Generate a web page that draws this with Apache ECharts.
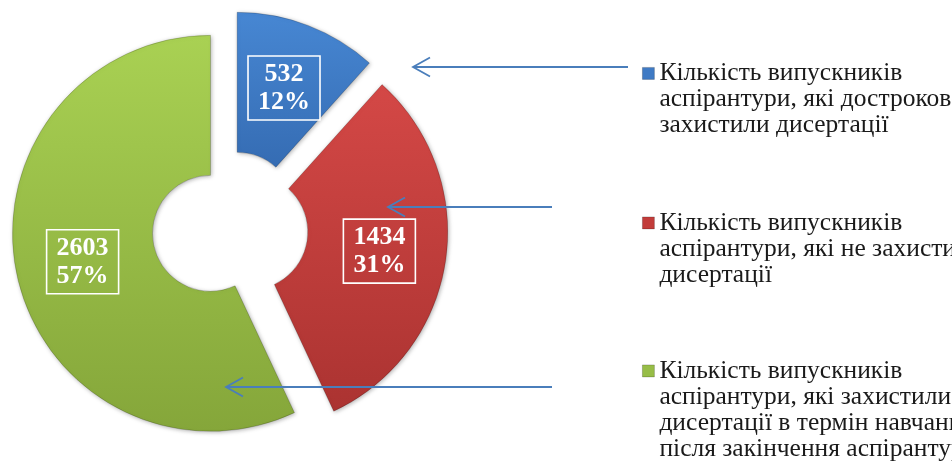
<!DOCTYPE html>
<html>
<head>
<meta charset="utf-8">
<script src="https://cdn.jsdelivr.net/npm/echarts@6/dist/echarts.min.js"></script>
<style>
  html, body { margin: 0; padding: 0; background: #ffffff; }
  #chart { width: 952px; height: 465px; }
</style>
</head>
<body>
<div id="chart"></div>
<script>
// Graduates of postgraduate study by thesis-defence outcome
const categories = [
  'Кількість випускників\nаспірантури, які достроково\nзахистили дисертації',
  'Кількість випускників\nаспірантури, які не захистили\nдисертації',
  'Кількість випускників\nаспірантури, які захистили\nдисертації в термін навчання\nпісля закінчення аспірантури'
];
const values = [532, 1434, 2603];

// top / bottom shades of each slice, flat colour for legend squares
const sliceShades = [
  ['#4787d3', '#356cb3'],
  ['#d44846', '#ab3331'],
  ['#a9d153', '#85a63a']
];
const iconColors = ['#3f7ac4', '#c23c3a', '#97bd47'];

const LINE_H = 26;
const legendTops = [60, 209.5, 357.5];

function legendIcon(lines) {
  const h = lines * LINE_H;
  // square marker aligned with the first text line; degenerate points stretch the box
  return 'path://M0,0L0.001,0Z M0,7h12v12h-12Z M0,' + h + 'L0.001,' + h + 'Z';
}

function shade(i) {
  return new echarts.graphic.LinearGradient(0, 0, 0, 1, [
    { offset: 0, color: sliceShades[i][0] },
    { offset: 1, color: sliceShades[i][1] }
  ]);
}

const chart = echarts.init(document.getElementById('chart'), null, { renderer: 'canvas' });

const legends = categories.map((name, i) => {
  const lines = name.split('\n').length;
  return {
    orient: 'vertical',
    left: 642,
    top: legendTops[i],
    padding: 0,
    itemGap: 0,
    itemWidth: 12,
    itemHeight: lines * LINE_H,
    icon: legendIcon(lines),
    selectedMode: false,
    data: [{ name: name, itemStyle: { color: iconColors[i], borderColor: 'rgba(0,0,0,0.25)', borderWidth: 0.8 } }],
    textStyle: {
      fontFamily: 'Liberation Serif',
      fontSize: 25.5,
      lineHeight: LINE_H,
      color: '#1a1a1a'
    }
  };
});

// arrows pointing from the legend towards the slices
function arrow(x1, x2, y) {
  return [
    { type: 'polyline', z: 100, shape: { points: [[x1, y], [x2, y]] },
      style: { stroke: '#4a7ebb', lineWidth: 1.8, fill: null } },
    { type: 'polyline', z: 100, shape: { points: [[x2 + 17, y - 9.5], [x2, y], [x2 + 17, y + 9.5]] },
      style: { stroke: '#4a7ebb', lineWidth: 1.8, fill: null } }
  ];
}

chart.setOption({
  animation: false,
  backgroundColor: '#ffffff',
  legend: legends,
  graphic: [].concat(arrow(628, 413, 67), arrow(552, 388, 207), arrow(552, 226, 387)),
  series: [{
    type: 'pie',
    center: [230, 229],
    radius: [58, 198],
    startAngle: 90,
    clockwise: true,
    selectedMode: 'multiple',
    selectedOffset: 20,
    percentPrecision: 0,
    emphasis: { disabled: true, scale: false },
    itemStyle: {
      borderColor: 'rgba(0,0,0,0.18)',
      borderWidth: 1,
      shadowBlur: 4,
      shadowColor: 'rgba(0,0,0,0.3)',
      shadowOffsetX: 1,
      shadowOffsetY: 1
    },
    label: {
      show: true,
      position: 'inside',
      formatter: '{c}\n{d}%',
      color: '#ffffff',
      fontFamily: 'Liberation Serif',
      fontWeight: 'bold',
      fontSize: 26,
      lineHeight: 28,
      borderColor: '#ffffff',
      borderWidth: 1.6,
      padding: [4, 10, 4, 10]
    },
    labelLine: { show: false },
    data: values.map((v, i) => ({
      value: v,
      name: categories[i],
      selected: true,
      itemStyle: { color: shade(i) },
      select: { itemStyle: { color: shade(i) } }
    }))
  }]
});
</script>
</body>
</html>
